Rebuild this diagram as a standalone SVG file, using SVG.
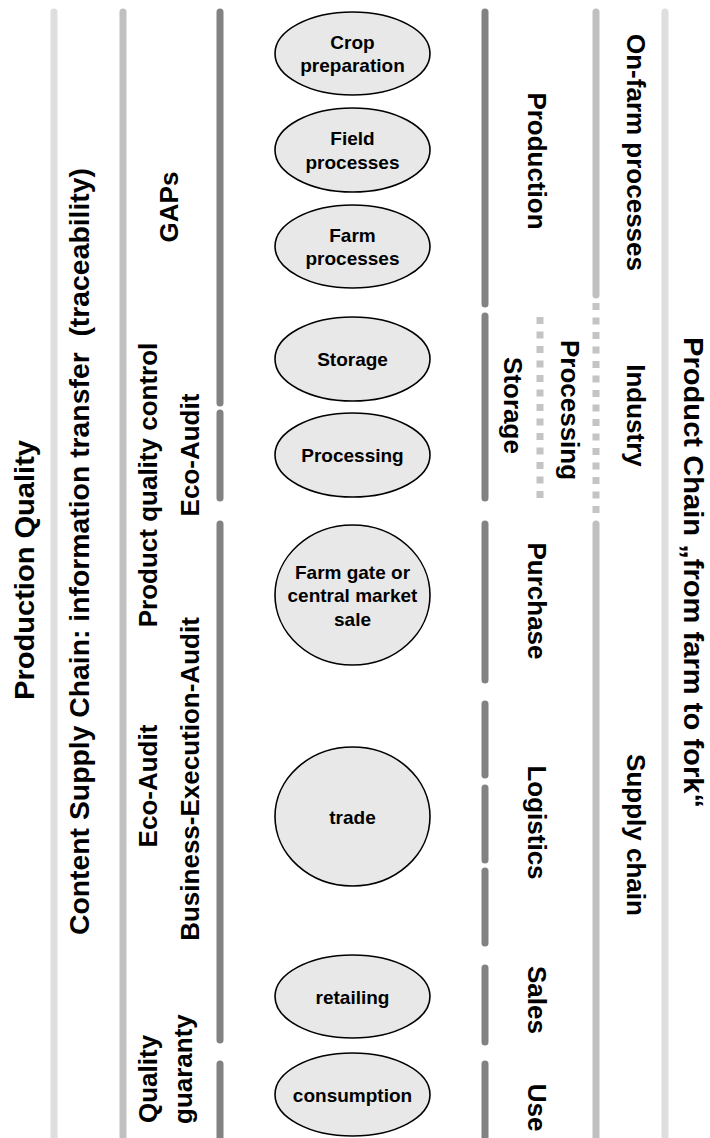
<svg xmlns="http://www.w3.org/2000/svg" width="710" height="1138" viewBox="0 0 710 1138">
<style>
text{font-family:"Liberation Sans",Arial,Helvetica,sans-serif;font-weight:bold;fill:#000}
.lbl{font-size:26px}
.ttl{font-size:28px}
.et{font-size:19px;text-anchor:middle}
.bar{fill:none;stroke-width:7;stroke-linecap:round}
.b1{stroke:#dedede}
.b2{stroke:#c0c0c0}
.b3{stroke:#828282}
.dot{fill:none;stroke:#c4c4c4;stroke-width:7;stroke-dasharray:7 7.5}
ellipse{fill:#e8e8e8;stroke:#000;stroke-width:1.6}
</style>
<rect width="710" height="1138" fill="#fff"/>
<g id="lanes">
<line class="bar b1" x1="54" y1="12" x2="54" y2="1145"/>
<line class="bar b2" x1="123" y1="12" x2="123" y2="1145"/>
<line class="bar b3" x1="220" y1="12" x2="220" y2="403"/>
<line class="bar b3" x1="220" y1="413" x2="220" y2="498"/>
<line class="bar b3" x1="220" y1="524" x2="220" y2="1040"/>
<line class="bar b3" x1="220" y1="1064" x2="220" y2="1145"/>
<line class="bar b3" x1="485" y1="12" x2="485" y2="304"/>
<line class="bar b3" x1="485" y1="316" x2="485" y2="498"/>
<line class="bar b3" x1="485" y1="524" x2="485" y2="680"/>
<line class="bar b3" x1="485" y1="704" x2="485" y2="775"/>
<line class="bar b3" x1="485" y1="788" x2="485" y2="860"/>
<line class="bar b3" x1="485" y1="871" x2="485" y2="943"/>
<line class="bar b3" x1="485" y1="968" x2="485" y2="1042"/>
<line class="bar b3" x1="485" y1="1064" x2="485" y2="1145"/>
<line class="bar b2" x1="596" y1="12" x2="596" y2="295"/>
<line class="dot" x1="596" y1="303" x2="596" y2="518"/>
<line class="bar b2" x1="596" y1="524" x2="596" y2="1145"/>
<line class="dot" x1="540" y1="317" x2="540" y2="498"/>
<line class="bar b1" x1="665" y1="12" x2="665" y2="1145"/>
</g>
<g id="labels-left">
<text class="ttl" text-anchor="middle" transform="translate(34,570) rotate(-90)" textLength="260" lengthAdjust="spacingAndGlyphs">Production Quality</text>
<text class="ttl" text-anchor="middle" transform="translate(89,551.5) rotate(-90)" textLength="767" lengthAdjust="spacingAndGlyphs" xml:space="preserve">Content Supply Chain: information transfer  (traceability)</text>
<text class="lbl" text-anchor="middle" transform="translate(178,207) rotate(-90)">GAPs</text>
<text class="lbl" text-anchor="middle" transform="translate(157,485) rotate(-90)">Product quality control</text>
<text class="lbl" text-anchor="middle" transform="translate(199,455) rotate(-90)">Eco-Audit</text>
<text class="lbl" text-anchor="middle" transform="translate(157,786) rotate(-90)">Eco-Audit</text>
<text class="lbl" text-anchor="middle" transform="translate(199,779) rotate(-90)">Business-Execution-Audit</text>
<text class="lbl" text-anchor="start" transform="translate(157,1123) rotate(-90)">Quality</text>
<text class="lbl" text-anchor="start" transform="translate(192,1124) rotate(-90)">guaranty</text>
</g>
<g id="labels-right">
<text class="ttl" font-size="29" text-anchor="middle" transform="translate(684,572.5) rotate(90)" textLength="471" lengthAdjust="spacingAndGlyphs">Product Chain „from farm to fork“</text>
<text class="lbl" text-anchor="middle" transform="translate(627,152.5) rotate(90)">On-farm processes</text>
<text class="lbl" text-anchor="middle" transform="translate(627,415.5) rotate(90)">Industry</text>
<text class="lbl" text-anchor="middle" transform="translate(627,835) rotate(90)">Supply chain</text>
<text class="lbl" text-anchor="middle" transform="translate(528,161) rotate(90)">Production</text>
<text class="lbl" text-anchor="middle" transform="translate(561,410) rotate(90)">Processing</text>
<text class="lbl" text-anchor="middle" transform="translate(504,405.5) rotate(90)">Storage</text>
<text class="lbl" text-anchor="middle" transform="translate(528,601) rotate(90)">Purchase</text>
<text class="lbl" text-anchor="middle" transform="translate(528,822.5) rotate(90)">Logistics</text>
<text class="lbl" text-anchor="middle" transform="translate(528,1000) rotate(90)">Sales</text>
<text class="lbl" text-anchor="middle" transform="translate(528,1107.5) rotate(90)">Use</text>
</g>
<g id="node-crop">
<ellipse cx="352.5" cy="53.5" rx="77.5" ry="41.5"/>
<text class="et" x="352.5" y="48.7">Crop</text>
<text class="et" x="352.5" y="72.2">preparation</text>
</g>
<g id="node-field">
<ellipse cx="352.5" cy="150" rx="77.5" ry="42"/>
<text class="et" x="352.5" y="145.2">Field</text>
<text class="et" x="352.5" y="168.7">processes</text>
</g>
<g id="node-farm">
<ellipse cx="352.5" cy="246.5" rx="77.5" ry="41.5"/>
<text class="et" x="352.5" y="241.7">Farm</text>
<text class="et" x="352.5" y="265.2">processes</text>
</g>
<g id="node-storage">
<ellipse cx="352.5" cy="359" rx="77.5" ry="42"/>
<text class="et" x="352.5" y="366">Storage</text>
</g>
<g id="node-processing">
<ellipse cx="352.5" cy="455" rx="77.5" ry="42"/>
<text class="et" x="352.5" y="462">Processing</text>
</g>
<g id="node-farmgate">
<ellipse cx="352.5" cy="595" rx="77.5" ry="70"/>
<text class="et" x="352.5" y="578.5">Farm gate or</text>
<text class="et" x="352.5" y="602">central market</text>
<text class="et" x="352.5" y="625.5">sale</text>
</g>
<g id="node-trade">
<ellipse cx="352.5" cy="816.5" rx="77.5" ry="69.5"/>
<text class="et" x="352.5" y="823.5">trade</text>
</g>
<g id="node-retailing">
<ellipse cx="352.5" cy="996.5" rx="77.5" ry="41.5"/>
<text class="et" x="352.5" y="1003.5">retailing</text>
</g>
<g id="node-consumption">
<ellipse cx="352.5" cy="1094.5" rx="77.5" ry="41.5"/>
<text class="et" x="352.5" y="1101.5">consumption</text>
</g>
</svg>
